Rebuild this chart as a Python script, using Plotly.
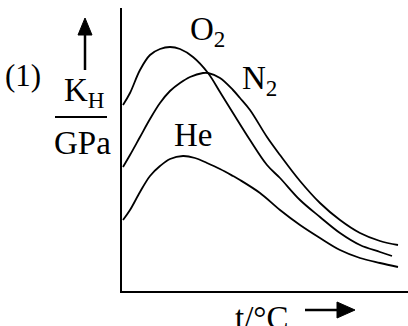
import plotly.graph_objects as go

# curves (arbitrary units, origin at the axes corner)
t_o2 = [1, 8, 18, 28, 38, 48, 58, 71, 86, 98, 111, 128, 145, 158, 178, 198, 218, 238, 258, 270]
k_o2 = [186, 198, 221, 236, 242, 244, 242, 234, 218, 199, 178, 151, 126, 113, 91, 74, 58, 46, 39, 35]

t_n2 = [1, 8, 18, 28, 38, 48, 58, 68, 81, 86, 98, 111, 118, 128, 145, 158, 178, 198, 218, 238, 258, 276]
k_n2 = [124, 136, 154, 172, 188, 200, 208, 214, 218, 218, 213, 201, 193, 181, 154, 136, 110, 88, 71, 58, 50, 46]

t_he = [1, 8, 18, 28, 38, 48, 61, 73, 85, 98, 111, 118, 138, 158, 178, 198, 218, 238, 258, 276]
k_he = [71, 81, 99, 115, 125, 132, 135, 133, 128, 122, 115, 111, 98, 81, 66, 53, 41, 33, 28, 24]

W, H = 408, 326
L, R, T, B = 122, 0, 8, 35
PW, PH = W - L - R, H - T - B


def px(x):
    return (x - L) / PW


def py(y):
    return (H - B - y) / PH


FONT = "Liberation Serif, Times New Roman, serif"

fig = go.Figure()
for t, k, name in [(t_o2, k_o2, "O2"), (t_n2, k_n2, "N2"), (t_he, k_he, "He")]:
    fig.add_trace(go.Scatter(
        x=t, y=k, mode='lines', name=name,
        line=dict(color='black', width=1.8, shape='spline', smoothing=1.0),
        hoverinfo='skip'
    ))

annotations = [
    dict(text="O<sub>2</sub>", x=px(188), y=py(31), xanchor='left', yanchor='middle', size=33),
    dict(text="N<sub>2</sub>", x=px(240), y=py(80), xanchor='left', yanchor='middle', size=33),
    dict(text="He", x=px(193), y=py(135), xanchor='center', yanchor='middle', size=33),
    dict(text="(1)", x=px(23), y=py(75), xanchor='center', yanchor='middle', size=31),
    dict(text="K<sub>H</sub>", x=px(62), y=py(92), xanchor='left', yanchor='middle', size=33),
    dict(text="GPa", x=px(82), y=py(143), xanchor='center', yanchor='middle', size=33),
    dict(text="t/°C", x=px(262), y=py(318), xanchor='center', yanchor='middle', size=33),
]
fig.update_layout(annotations=[
    dict(text=a['text'], x=a['x'], y=a['y'], xref='paper', yref='paper',
         xanchor=a['xanchor'], yanchor=a['yanchor'], showarrow=False,
         font=dict(family=FONT, size=a['size'], color='black'))
    for a in annotations
])

shapes = [
    # fraction bar K_H / GPa
    dict(type='line', x0=px(55), x1=px(107), y0=py(117), y1=py(117), line=dict(color='black', width=2)),
    # up arrow
    dict(type='line', x0=px(85), x1=px(85), y0=py(70), y1=py(30), line=dict(color='black', width=2.5)),
    dict(type='path', path=f"M {px(85)} {py(18)} L {px(78)} {py(35)} L {px(92)} {py(35)} Z",
         fillcolor='black', line=dict(color='black', width=1)),
    # right arrow
    dict(type='line', x0=px(305), x1=px(340), y0=py(310), y1=py(310), line=dict(color='black', width=2.5)),
    dict(type='path', path=f"M {px(355)} {py(310)} L {px(337)} {py(302)} L {px(337)} {py(318)} Z",
         fillcolor='black', line=dict(color='black', width=1)),
]
for s in shapes:
    s['xref'] = 'paper'
    s['yref'] = 'paper'
fig.update_layout(shapes=shapes)

fig.update_xaxes(range=[0, PW], showline=True, linecolor='black', linewidth=2,
                 showgrid=False, zeroline=False, showticklabels=False, ticks='')
fig.update_yaxes(range=[0, PH], showline=True, linecolor='black', linewidth=2,
                 showgrid=False, zeroline=False, showticklabels=False, ticks='')

fig.update_layout(
    width=W, height=H,
    margin=dict(l=L, r=R, t=T, b=B),
    paper_bgcolor='white', plot_bgcolor='white',
    showlegend=False
)

# drop the default 8px body margin so the figure sits at the page corner
fig.write_html("out.html", config={'displayModeBar': False, 'staticPlot': True},
               post_script="document.body.style.margin='0px';")
